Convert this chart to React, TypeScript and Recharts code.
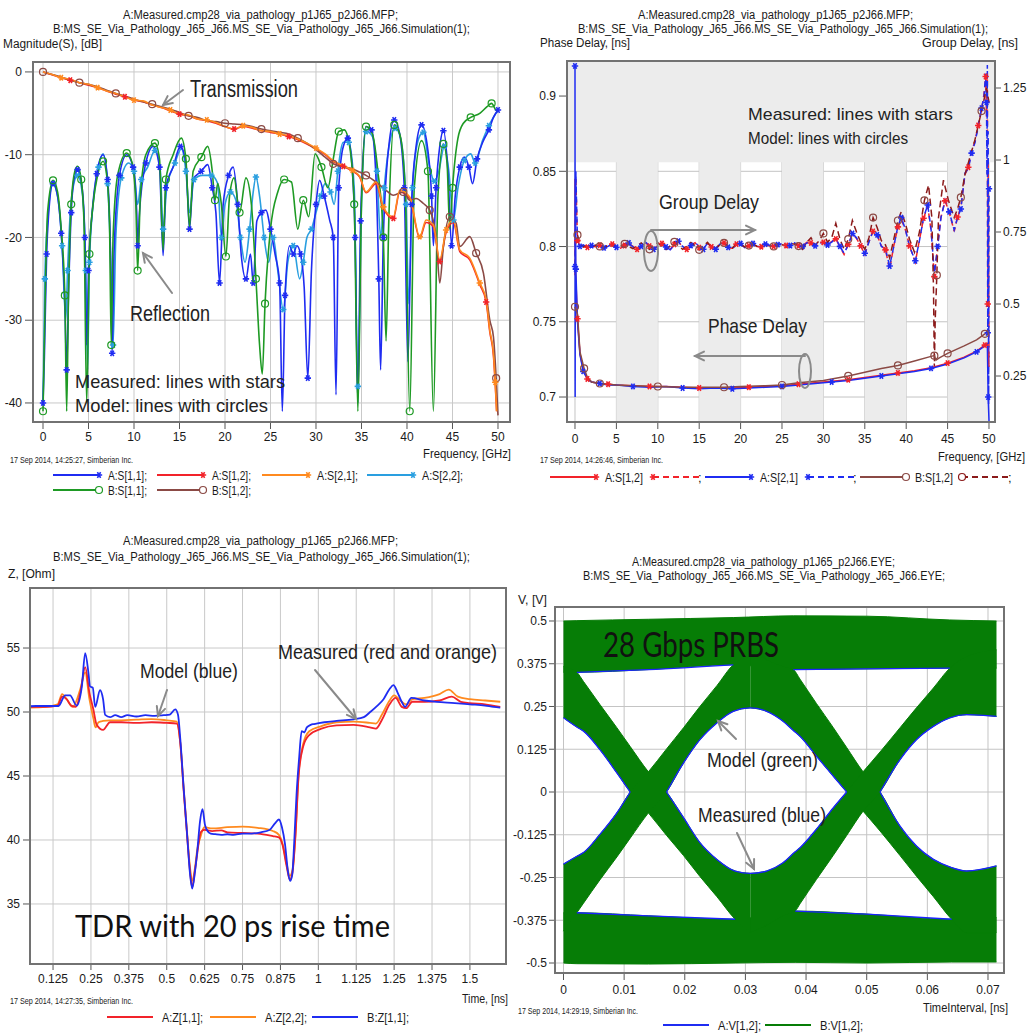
import React from 'react';
import { ComposedChart, Line, Area, XAxis, YAxis, CartesianGrid, ReferenceArea } from 'recharts';

const NARROW = "'Liberation Sans Narrow','Arial Narrow','Liberation Sans',Arial,sans-serif";
const BIG = "Lato,'Open Sans',sans-serif";

type P2 = [number, number];
type P3 = [number, number, number];

// ---------------- Panel 1: |S| in dB ----------------
const freqTicks = [0, 5, 10, 15, 20, 25, 30, 35, 40, 45, 50];
const magTicks = [0, -10, -20, -30, -40];

const s21A: P2[] = [[0,0],[1,-0.3],[2,-0.7],[3,-0.9],[4,-1.3],[5,-1.5],[6,-1.9],[7,-2.3],[8,-2.6],[9,-3.0],[10,-3.4],[11,-3.5],[12,-4.0],[13,-4.3],[14,-4.6],[15,-5.1],[16,-5.2],[17,-5.7],[18,-5.8],[19,-6.1],[20,-6.6],[21,-6.9],[22,-6.5],[23,-6.7],[24,-7.1],[25,-7.2],[26,-7.5],[27,-7.7],[28,-8.1],[29,-8.6],[30,-9.2],[31,-9.9],[32,-10.8],[33,-11.3],[34,-11.9],[34.8,-12.6],[35.5,-14.5],[36.6,-13.3],[37.4,-16.3],[38.5,-17.5],[39.2,-14.3],[40.3,-15.1],[41.4,-19.9],[42.1,-17.9],[42.9,-18.5],[43.6,-22.7],[44.3,-19.1],[45.1,-17.9],[45.8,-21.5],[46.9,-22.5],[48.0,-25.5],[48.7,-27.5],[49.1,-31.2],[49.5,-34.0],[49.7,-37.5],[49.85,-41]];
const s12A: P2[] = [[0,0],[1,-0.35],[2,-0.7],[3,-1.0],[4,-1.3],[5,-1.6],[6,-1.9],[7,-2.3],[8,-2.7],[9,-3.0],[10,-3.4],[11,-3.6],[12,-4.0],[13,-4.3],[14,-4.7],[15,-5.1],[16,-5.3],[17,-5.7],[18,-5.9],[19,-6.2],[20,-6.6],[21,-6.9],[22,-6.6],[23,-6.8],[24,-7.1],[25,-7.3],[26,-7.5],[27,-7.8],[28,-8.2],[29,-8.7],[30,-9.3],[31,-10.0],[32,-10.9],[33,-11.4],[34,-12.0],[34.8,-12.7],[35.5,-14.6],[36.6,-13.5],[37.4,-16.5],[38.5,-17.7],[39.2,-14.5],[40.3,-15.3],[41.4,-20.1],[42.1,-18.2],[42.9,-18.7],[43.6,-22.9],[44.3,-19.4],[45.1,-18.2],[45.8,-21.7],[46.9,-22.7],[48.0,-25.7],[48.7,-27.8],[49.1,-31.4],[49.5,-34.3],[49.7,-37.8],[49.85,-41]];
const s12B: P2[] = [[0,0],[1,-0.3],[2,-0.6],[3,-1.0],[4,-1.3],[5,-1.5],[6,-1.8],[7,-2.2],[8,-2.6],[9,-2.9],[10,-3.3],[11,-3.6],[12,-3.9],[13,-4.2],[14,-4.5],[15,-4.9],[16,-5.3],[17,-5.5],[18,-5.9],[19,-6.0],[20,-6.2],[21,-6.3],[22,-6.4],[23,-6.6],[24,-6.9],[25,-7.1],[26,-7.3],[27,-7.5],[28,-8.0],[29,-8.6],[30,-9.4],[31,-10.3],[31.9,-11.1],[33,-11.5],[33.7,-11.6],[34.8,-12.1],[35.5,-12.5],[36.6,-13.3],[37.7,-14.3],[38.5,-14.9],[39.6,-14.5],[40.3,-15.5],[41,-15.3],[41.8,-15.9],[42.5,-16.7],[43.2,-19.9],[43.6,-25.5],[44,-21.1],[44.7,-17.5],[45.4,-18.3],[45.8,-21.1],[46.9,-19.9],[47.6,-21.9],[48.4,-24.3],[49.1,-30],[49.5,-32],[49.8,-37],[50,-41.5]];
const s11B: P2[] = [[0,-41],[0.3,-24],[0.5,-17],[1.1,-13.1],[1.6,-14.5],[2.0,-19],[2.4,-27],[2.6,-41],[2.8,-27],[3.1,-16],[3.5,-12],[3.8,-11.4],[4.2,-13],[4.5,-18],[4.8,-40],[5.1,-22],[5.5,-16],[6.0,-12.5],[6.6,-10.8],[7.0,-12.5],[7.3,-18],[7.5,-33],[7.7,-20],[8.2,-12.5],[9.2,-9.8],[9.8,-11],[10.2,-16],[10.4,-24],[10.7,-15],[11.3,-10],[12.3,-8.6],[12.8,-10.5],[13.2,-21.5],[13.5,-13],[14.3,-10],[15.2,-8.0],[15.7,-10.5],[16.1,-18.7],[16.5,-12],[17.4,-10.3],[18.1,-9.0],[18.6,-12],[18.9,-15.5],[19.2,-13.5],[19.6,-16],[20.1,-22.3],[20.5,-15],[21.0,-12.8],[21.6,-17],[22.3,-12.8],[22.9,-16],[23.4,-25],[23.8,-33],[24.1,-36.5],[24.4,-28],[25.0,-19],[25.8,-14.5],[26.5,-13],[27.3,-13.3],[28.0,-19],[28.6,-15.5],[29.2,-17.5],[29.9,-9.9],[30.6,-11.5],[31.3,-14],[31.9,-10.5],[32.5,-7.2],[33.1,-7.0],[33.7,-9],[34.2,-16],[34.6,-41],[35.0,-16],[35.5,-6.6],[36.2,-7.5],[36.8,-12],[37.4,-20],[37.7,-32.5],[38.0,-18],[38.6,-6.4],[39.2,-7.5],[39.8,-14],[40.3,-41],[40.8,-14],[41.6,-8.3],[42.3,-12],[42.9,-41],[43.4,-15],[44.0,-8.7],[44.4,-11],[44.7,-19],[45.0,-14],[45.6,-8],[46.2,-6.2],[47.0,-5.5],[48.0,-5],[48.8,-4.2],[49.3,-3.8],[49.7,-4.5],[50,-4.8]];
const s11A: P2[] = [[0,-40],[0.15,-34.5],[0.4,-22],[0.6,-17.5],[1.1,-13.5],[1.6,-15],[2.0,-19.5],[2.4,-28],[2.6,-36],[2.8,-27],[3.1,-17],[3.4,-13],[3.8,-11.8],[4.3,-14],[4.6,-20],[4.8,-33],[5.0,-24],[5.4,-17],[5.9,-12.3],[6.6,-10.0],[7.1,-13],[7.4,-21],[7.6,-34],[7.8,-22],[8.4,-12.5],[9.2,-10.0],[9.9,-11.5],[10.3,-17],[10.4,-21],[10.6,-17],[11.3,-11],[12.1,-9.0],[12.8,-11.5],[13.2,-22.2],[13.5,-14],[14.3,-11.5],[15.1,-9.0],[15.7,-11],[16.1,-19],[16.5,-13],[17.4,-12],[18.1,-11.2],[18.6,-14],[19.0,-17],[19.4,-25.5],[19.8,-16],[20.4,-12.5],[20.9,-11.5],[21.4,-16],[21.8,-22.3],[22.3,-25],[22.8,-22],[23.1,-25.5],[23.5,-18],[24.0,-17],[24.5,-16.7],[25.0,-19],[25.5,-22],[26.0,-25.5],[26.3,-41],[26.6,-27],[27.1,-21],[27.5,-22],[27.9,-21],[28.3,-22],[28.7,-26],[29.1,-37],[29.5,-24],[30.0,-16],[30.4,-13.1],[30.9,-15],[31.5,-17.9],[31.9,-20],[32.2,-39],[32.5,-14],[33.0,-9.0],[33.5,-8.0],[34.0,-12],[34.3,-20],[34.6,-40],[34.9,-18],[35.5,-6.6],[36.1,-7],[36.6,-13],[36.9,-25],[37.1,-36],[37.4,-20],[38.0,-9],[38.6,-5.8],[39.2,-7.5],[39.7,-14],[40.1,-35],[40.5,-16],[41.0,-9],[41.6,-6.4],[42.3,-9.5],[42.7,-15],[42.9,-21],[43.2,-14],[43.6,-9],[44.0,-7.1],[44.5,-12],[44.9,-21],[45.3,-15],[45.8,-11.5],[46.3,-10.3],[46.8,-11.5],[47.2,-13.5],[47.7,-10.5],[48.4,-8.3],[49.0,-7],[49.5,-5.5],[50,-4.6]];
const s22A: P2[] = [[0,-40],[0.2,-25],[0.5,-18],[1.1,-13.5],[1.6,-15],[2.1,-21],[2.5,-30],[2.7,-24],[3.1,-15.5],[3.8,-12.5],[4.3,-14.5],[4.7,-24],[4.9,-36],[5.1,-23],[5.6,-15],[6.1,-11.5],[6.6,-9.9],[7.1,-13.5],[7.5,-25],[7.7,-33],[8.0,-20],[8.6,-12.8],[9.4,-11],[10,-12],[10.4,-16],[10.8,-13],[11.5,-11.5],[12.3,-9.5],[12.9,-12],[13.2,-19],[13.6,-14],[14.5,-11],[15.2,-9.3],[15.7,-12],[16.1,-17],[16.6,-13],[17.5,-12.5],[18.5,-12.5],[19.2,-13.5],[19.6,-20],[20.0,-16],[20.6,-14.5],[21.2,-15.5],[21.7,-20],[22.2,-23],[22.7,-19],[23.1,-14.5],[23.4,-12.7],[23.8,-15],[24.3,-20],[24.8,-23],[25.3,-20],[25.8,-24],[26.4,-28.7],[26.9,-23],[27.5,-21],[28.2,-25],[28.6,-23],[29.0,-20],[29.5,-19],[30.0,-17],[30.5,-15],[31.0,-13.5],[31.6,-14.5],[32.0,-16],[32.4,-12],[33.0,-8.5],[33.6,-8.5],[34.2,-14],[34.6,-38],[35.0,-16],[35.5,-7.2],[36.2,-7.8],[36.7,-12],[37.1,-20],[37.5,-14],[38.2,-8],[38.7,-6.8],[39.3,-8],[39.9,-16],[40.2,-28],[40.6,-14],[41.3,-8],[41.8,-7.3],[42.4,-11],[43.0,-13.2],[43.5,-12],[44.1,-9],[44.6,-12],[45.1,-17.9],[45.6,-14],[46.3,-10.7],[47.0,-9.9],[47.5,-11],[48.3,-8.3],[49,-6.5],[50,-4.6]];

// ---------------- Panel 2: delays ----------------
const pdLeftTicks = [0.9, 0.85, 0.8, 0.75, 0.7];
const gdRightTicks = [1.25, 1, 0.75, 0.5, 0.25];
const shadeCols: P2[] = [[5, 10], [15, 20], [25, 30], [35, 40], [45, 50]];

const pdA21: P2[] = [[0,0.92],[0.02,0.70],[0.05,0.85],[0.1,0.785],[0.3,0.75],[0.6,0.728],[1,0.717],[1.5,0.712],[2,0.710],[3,0.709],[4,0.708],[5,0.708],[7,0.707],[9,0.7065],[11,0.707],[13,0.706],[15,0.7055],[17,0.706],[19,0.7055],[21,0.706],[23,0.7065],[25,0.707],[27,0.708],[29,0.709],[31,0.710],[33,0.711],[35,0.7125],[37,0.714],[39,0.7155],[41,0.717],[43,0.719],[45,0.722],[47,0.726],[48.5,0.730],[49.5,0.734],[49.8,0.735],[49.9,0.70],[50,0.684]];
const pdA12: P2[] = [[0,0.845],[0.05,0.785],[0.3,0.752],[0.6,0.729],[1,0.718],[1.5,0.712],[2,0.710],[3,0.709],[4,0.7085],[5,0.708],[7,0.7075],[9,0.707],[11,0.707],[13,0.7065],[15,0.706],[17,0.706],[19,0.706],[21,0.7065],[23,0.707],[25,0.7075],[27,0.7085],[29,0.7095],[31,0.7105],[33,0.7115],[35,0.713],[37,0.7145],[39,0.716],[41,0.7175],[43,0.7195],[45,0.7225],[47,0.7265],[48.5,0.7305],[49.5,0.7345],[49.8,0.7355],[50,0.72]];
const pdB12: P2[] = [[0,0.76],[0.3,0.755],[0.6,0.73],[1.1,0.719],[1.5,0.713],[2,0.710],[3,0.709],[5,0.708],[7,0.7075],[10,0.707],[13,0.7065],[15,0.7065],[18,0.7065],[20,0.707],[23,0.7075],[25,0.708],[27,0.7095],[30,0.711],[33,0.714],[35,0.7165],[37,0.719],[39,0.721],[41,0.724],[43,0.727],[43.4,0.7275],[43.6,0.7245],[44,0.726],[45,0.729],[47,0.734],[48.5,0.738],[49.5,0.742],[50,0.7445]];
const gdA21: P2[] = [[0,0.63],[0.1,0.96],[0.3,0.715],[0.6,0.70],[1.0,0.705],[1.5,0.695],[2.0,0.703],[2.5,0.697],[3.0,0.706],[3.5,0.695],[4.0,0.700],[4.5,0.710],[5.0,0.697],[5.5,0.692],[6.0,0.705],[6.5,0.712],[7.0,0.698],[7.5,0.688],[8.0,0.700],[8.5,0.715],[9.0,0.703],[9.5,0.690],[10.0,0.700],[10.5,0.712],[11.0,0.698],[11.5,0.688],[12.0,0.705],[12.5,0.718],[13.0,0.700],[13.5,0.688],[14.0,0.703],[14.5,0.715],[15.0,0.698],[15.5,0.690],[16.0,0.712],[16.5,0.700],[17.0,0.690],[17.5,0.708],[18.0,0.714],[18.5,0.697],[19.0,0.692],[19.5,0.706],[20.0,0.710],[20.5,0.696],[21.0,0.700],[21.5,0.710],[22.0,0.702],[22.5,0.697],[23.0,0.708],[23.5,0.704],[24.0,0.698],[24.5,0.706],[25.0,0.710],[25.5,0.701],[26.0,0.703],[26.5,0.712],[27.0,0.705],[27.5,0.700],[28.0,0.712],[28.5,0.714],[29.0,0.702],[29.5,0.710],[30.0,0.716],[30.5,0.705],[31.0,0.715],[31.5,0.728],[32.0,0.700],[32.5,0.676],[33.0,0.705],[33.5,0.745],[34.0,0.730],[34.5,0.700],[35.0,0.676],[35.5,0.715],[36.0,0.755],[36.5,0.740],[37.0,0.700],[37.5,0.690],[38.0,0.632],[38.5,0.700],[39.0,0.770],[39.4,0.800],[39.9,0.760],[40.4,0.700],[41.1,0.650],[41.6,0.720],[42.1,0.800],[42.6,0.844],[43.0,0.760],[43.4,0.607],[43.8,0.700],[44.2,0.800],[44.7,0.861],[45.2,0.820],[45.8,0.757],[46.2,0.800],[46.6,0.830],[47.1,0.955],[47.5,0.970],[47.9,1.024],[48.3,1.060],[48.7,1.115],[49.1,1.180],[49.4,1.220],[49.6,1.300],[49.7,1.200],[49.75,0.950],[49.8,1.330],[49.85,0.400],[49.9,1.100],[49.95,0.150],[50,0.900]];
const gdA12: P2[] = [[0,0.60],[0.1,0.94],[0.3,0.72],[0.6,0.702],[1.0,0.703],[1.5,0.697],[2.0,0.701],[2.5,0.699],[3.0,0.704],[3.5,0.697],[4.0,0.702],[4.5,0.708],[5.0,0.699],[5.5,0.694],[6.0,0.703],[6.5,0.710],[7.0,0.700],[7.5,0.690],[8.0,0.702],[8.5,0.713],[9.0,0.701],[9.5,0.692],[10.0,0.702],[10.5,0.710],[11.0,0.696],[11.5,0.690],[12.0,0.707],[12.5,0.716],[13.0,0.698],[13.5,0.690],[14.0,0.705],[14.5,0.713],[15.0,0.696],[15.5,0.692],[16.0,0.710],[16.5,0.698],[17.0,0.692],[17.5,0.710],[18.0,0.712],[18.5,0.695],[19.0,0.694],[19.5,0.708],[20.0,0.708],[20.5,0.698],[21.0,0.702],[21.5,0.708],[22.0,0.700],[22.5,0.699],[23.0,0.706],[23.5,0.702],[24.0,0.700],[24.5,0.708],[25.0,0.708],[25.5,0.703],[26.0,0.705],[26.5,0.710],[27.0,0.703],[27.5,0.702],[28.0,0.714],[28.5,0.712],[29.0,0.704],[29.5,0.712],[30.0,0.714],[30.5,0.707],[31.0,0.717],[31.5,0.726],[32.0,0.698],[32.5,0.672],[33.0,0.707],[33.5,0.742],[34.0,0.728],[34.5,0.702],[35.0,0.672],[35.5,0.717],[36.0,0.752],[36.5,0.738],[37.0,0.702],[37.5,0.688],[38.0,0.620],[38.5,0.702],[39.0,0.768],[39.4,0.795],[39.9,0.758],[40.4,0.702],[41.1,0.645],[41.6,0.722],[42.1,0.798],[42.6,0.840],[43.0,0.755],[43.4,0.595],[43.8,0.702],[44.2,0.802],[44.7,0.858],[45.2,0.818],[45.8,0.752],[46.2,0.802],[46.6,0.835],[47.1,0.950],[47.5,0.975],[47.9,1.030],[48.3,1.065],[48.7,1.120],[49.1,1.175],[49.4,1.230],[49.6,1.290],[49.7,1.150],[49.8,1.300],[49.85,0.500],[49.9,1.000],[50,0.300]];
const gdB12: P2[] = [[0.3,0.74],[0.6,0.71],[1.0,0.698],[1.5,0.704],[2.0,0.699],[2.5,0.705],[3.0,0.700],[3.5,0.694],[4.0,0.706],[4.5,0.703],[5.0,0.694],[5.5,0.700],[6.0,0.709],[6.5,0.700],[7.0,0.692],[7.5,0.702],[8.0,0.712],[8.5,0.700],[9.0,0.690],[9.5,0.703],[10.0,0.713],[10.5,0.699],[11.0,0.689],[11.5,0.702],[12.0,0.716],[12.5,0.702],[13.0,0.690],[13.5,0.700],[14.0,0.714],[14.5,0.703],[15.0,0.688],[15.5,0.702],[16.0,0.714],[16.5,0.698],[17.0,0.692],[17.5,0.706],[18.0,0.712],[18.5,0.699],[19.0,0.694],[19.5,0.708],[20.0,0.706],[20.5,0.698],[21.0,0.703],[21.5,0.709],[22.0,0.700],[22.5,0.702],[23.0,0.710],[23.5,0.703],[24.0,0.700],[24.5,0.709],[25.0,0.706],[25.5,0.702],[26.0,0.710],[26.5,0.708],[27.0,0.701],[27.5,0.690],[28.0,0.715],[28.5,0.730],[29.0,0.705],[29.5,0.720],[30.0,0.745],[30.5,0.715],[31.0,0.730],[31.5,0.780],[32.0,0.725],[32.5,0.690],[33.0,0.725],[33.5,0.790],[34.0,0.750],[34.5,0.715],[35.0,0.690],[35.5,0.730],[36.0,0.800],[36.5,0.765],[37.0,0.720],[37.5,0.705],[38.0,0.660],[38.5,0.725],[39.0,0.790],[39.4,0.820],[39.9,0.780],[40.4,0.725],[41.0,0.680],[41.6,0.750],[42.2,0.860],[42.7,0.913],[43.1,0.800],[43.3,0.550],[43.4,0.278],[43.5,0.440],[43.7,0.600],[43.9,0.800],[44.5,0.930],[45.1,0.860],[45.8,0.800],[46.2,0.830],[46.6,0.870],[47.1,0.950],[47.5,0.990],[47.9,1.030],[48.3,1.070],[48.7,1.120],[49.1,1.170],[49.4,1.210],[49.7,1.250],[50,1.200]];

// ---------------- Panel 3: TDR impedance ----------------
const timeTicks = [0.125, 0.25, 0.375, 0.5, 0.625, 0.75, 0.875, 1, 1.125, 1.25, 1.375, 1.5];
const zTicks = [55, 50, 45, 40, 35];
const zB11: P2[] = [[0.049,50.45],[0.07,50.47],[0.143,50.47],[0.165,51.3],[0.181,51.3],[0.203,50.5],[0.22,52.0],[0.231,54.6],[0.242,53.0],[0.247,52.0],[0.256,51.9],[0.264,50.4],[0.280,51.7],[0.29,51.0],[0.297,49.77],[0.313,49.6],[0.33,49.75],[0.35,49.6],[0.37,49.75],[0.40,49.65],[0.43,49.75],[0.46,49.7],[0.49,49.75],[0.51,49.8],[0.528,50.2],[0.537,49.8],[0.545,47.8],[0.556,44.0],[0.567,40.5],[0.577,37.3],[0.584,36.2],[0.593,37.5],[0.601,39.2],[0.61,41.5],[0.618,42.4],[0.626,41.2],[0.632,40.8],[0.645,40.5],[0.66,40.45],[0.68,40.4],[0.70,40.45],[0.72,40.4],[0.75,40.5],[0.78,40.5],[0.81,40.6],[0.84,40.8],[0.857,41.3],[0.87,41.6],[0.88,41.0],[0.89,39.7],[0.90,37.5],[0.907,36.8],[0.914,37.3],[0.92,39.6],[0.928,43.5],[0.937,46.5],[0.945,48.5],[0.954,48.4],[0.962,48.8],[0.975,49.0],[0.986,49.06],[1.02,49.2],[1.06,49.3],[1.116,49.43],[1.15,49.6],[1.171,50.0],[1.195,50.5],[1.215,51.0],[1.235,51.8],[1.248,52.1],[1.26,51.6],[1.275,50.8],[1.286,50.4],[1.307,51.1],[1.35,50.9],[1.39,50.8],[1.45,50.7],[1.5,50.6],[1.55,50.5],[1.578,50.4],[1.6,50.35]];
const zA11: P2[] = [[0.049,50.4],[0.10,50.4],[0.14,50.5],[0.155,51.2],[0.17,51.0],[0.185,50.5],[0.2,50.4],[0.215,51.5],[0.231,53.5],[0.245,51.5],[0.258,50.2],[0.269,49.0],[0.29,48.6],[0.313,49.2],[0.35,49.2],[0.40,49.15],[0.45,49.2],[0.50,49.15],[0.533,49.1],[0.545,47.5],[0.556,43.8],[0.567,40.4],[0.577,37.5],[0.584,36.3],[0.593,37.6],[0.601,39.0],[0.612,40.6],[0.624,40.8],[0.65,40.7],[0.68,40.75],[0.70,40.6],[0.75,40.55],[0.80,40.5],[0.85,40.3],[0.87,40.2],[0.882,39.6],[0.895,38.0],[0.906,36.9],[0.915,37.5],[0.925,40.5],[0.935,45.0],[0.95,47.3],[0.97,48.2],[1.01,48.7],[1.06,48.95],[1.116,49.0],[1.17,48.8],[1.19,48.7],[1.21,49.4],[1.235,50.6],[1.255,51.1],[1.275,50.4],[1.29,50.3],[1.31,50.8],[1.35,50.8],[1.40,50.9],[1.44,51.2],[1.47,50.8],[1.5,50.7],[1.55,50.6],[1.6,50.4]];
const zA22: P2[] = [[0.049,50.35],[0.10,50.4],[0.14,50.6],[0.155,51.4],[0.17,51.0],[0.19,50.4],[0.215,51.8],[0.231,53.1],[0.245,51.0],[0.258,49.5],[0.265,48.8],[0.275,49.2],[0.29,49.3],[0.313,49.35],[0.35,49.35],[0.40,49.4],[0.45,49.45],[0.50,49.35],[0.533,49.25],[0.545,47.5],[0.556,44],[0.567,40.6],[0.577,37.8],[0.584,36.8],[0.593,37.8],[0.601,39.3],[0.612,40.3],[0.624,41.0],[0.65,40.9],[0.70,41.0],[0.75,41.05],[0.80,40.95],[0.85,40.7],[0.87,40.4],[0.882,39.7],[0.895,38.2],[0.906,37.2],[0.915,37.7],[0.925,40.6],[0.935,45.2],[0.95,47.5],[0.97,48.5],[1.01,48.9],[1.06,49.2],[1.116,49.25],[1.17,49.15],[1.19,49.1],[1.21,49.8],[1.235,50.9],[1.25,51.3],[1.275,50.8],[1.29,50.6],[1.31,51.0],[1.35,51.1],[1.40,51.4],[1.43,51.75],[1.46,51.2],[1.5,51.0],[1.55,50.9],[1.6,50.8]];

// ---------------- Panel 4: eye diagram (time, low, high) ----------------
const eyeTimeTicks = [0, 0.01, 0.02, 0.03, 0.04, 0.05, 0.06, 0.07];
const eyeVTicks = [0.5, 0.375, 0.25, 0.125, 0, -0.125, -0.25, -0.375, -0.5];
const eyeTopBand: P3[] = [[0,0.35,0.5],[0.0022,0.35,0.501],[0.014,0.358,0.505],[0.028,0.372,0.51],[0.0379,0.358,0.515],[0.05,0.36,0.514],[0.0637,0.362,0.503],[0.0714,0.362,0.5]];
const eyeBottomBand: P3[] = [[0,-0.5,-0.353],[0.0022,-0.502,-0.353],[0.014,-0.503,-0.362],[0.0283,-0.5,-0.372],[0.0382,-0.498,-0.348],[0.05,-0.5,-0.357],[0.064,-0.497,-0.372],[0.0714,-0.497,-0.367]];
const eyeFall1: P3[] = [[0,0.217,0.367],[0.0022,0.190,0.350],[0.0033,0.178,0.323],[0.0060,0.124,0.256],[0.0088,0.056,0.188],[0.0110,0.000,0.133],[0.0140,-0.061,0.059],[0.0170,-0.127,0.000],[0.0198,-0.186,-0.075],[0.0225,-0.247,-0.148],[0.0253,-0.306,-0.197],[0.0283,-0.372,-0.231],[0.0308,-0.411,-0.238]];
const eyeRise1: P3[] = [[0,-0.407,-0.211],[0.0022,-0.353,-0.188],[0.0033,-0.325,-0.177],[0.0060,-0.257,-0.124],[0.0088,-0.190,-0.061],[0.0110,-0.135,0.000],[0.0140,-0.061,0.059],[0.0170,0.000,0.126],[0.0198,0.085,0.188],[0.0225,0.153,0.250],[0.0253,0.202,0.311],[0.0280,0.236,0.372],[0.0308,0.246,0.396]];
const eyeFall2: P3[] = [[0.0308,0.246,0.416],[0.0335,0.236,0.387],[0.0362,0.207,0.367],[0.0379,0.180,0.358],[0.0390,0.163,0.330],[0.0417,0.105,0.259],[0.0445,0.046,0.188],[0.0467,0.000,0.130],[0.0494,-0.056,0.059],[0.0522,-0.114,0.000],[0.0555,-0.186,-0.100],[0.0582,-0.246,-0.158],[0.0610,-0.306,-0.197],[0.0640,-0.372,-0.221],[0.0665,-0.411,-0.231],[0.0714,-0.411,-0.216]];
const eyeRise2: P3[] = [[0.0308,-0.411,-0.238],[0.0335,-0.390,-0.231],[0.0362,-0.362,-0.207],[0.0382,-0.348,-0.175],[0.0390,-0.327,-0.163],[0.0417,-0.256,-0.109],[0.0445,-0.185,-0.046],[0.0467,-0.127,0.000],[0.0494,-0.056,0.059],[0.0522,0.000,0.117],[0.0555,0.095,0.188],[0.0582,0.153,0.246],[0.0610,0.192,0.304],[0.0637,0.217,0.362],[0.0665,0.226,0.396],[0.0714,0.221,0.416]];

// ---------------- helpers ----------------
const xy = (a: P2[]) => a.map(([x, y]) => ({ x, y }));
const rng = (a: P3[]) => a.map(([x, lo, hi]) => ({ x, v: [lo, hi] }));
const edge = (a: P3[], t0: number, t1: number, k: 1 | 2) =>
  a.filter((p) => p[0] >= t0 - 1e-9 && p[0] <= t1 + 1e-9).map((p) => ({ x: p[0], y: p[k] }));
const tickStyle = { fontSize: 12, fill: '#1a1a1a', fontFamily: NARROW };
const tickLine = { stroke: '#555', strokeWidth: 1 };

function marker(kind: 'star' | 'circle', color: string, every: number, offset = 0) {
  return (p: any) => {
    const { cx, cy, index } = p;
    const key = `m${index}`;
    if (cx == null || cy == null || (index + offset) % every !== 0) return <g key={key} />;
    if (kind === 'circle') return <circle key={key} cx={cx} cy={cy} r={3.5} fill="none" stroke={color} strokeWidth={1.2} />;
    const r = 3.2;
    return (
      <path key={key} d={`M${cx - r},${cy}H${cx + r}M${cx - r * 0.5},${cy - r * 0.87}L${cx + r * 0.5},${cy + r * 0.87}M${cx - r * 0.5},${cy + r * 0.87}L${cx + r * 0.5},${cy - r * 0.87}`} stroke={color} strokeWidth={1.6} fill="none" />
    );
  };
}

const C = {
  blue: '#1f2cf2', red: '#f2232a', orange: '#ff8a1f', lblue: '#2a9fe0', green: '#1e9a24', brown: '#8b4a45', eye: '#067d06', eyeEdge: '#1a22ff',
};

function Panel1() {
  return (
    <div style={{ position: 'absolute', left: 0, top: 50 }}>
      <ComposedChart width={520} height={410} margin={{ top: 12, right: 10, bottom: 0, left: 0 }}>
        <CartesianGrid stroke="#c9c9c9" />
        <XAxis type="number" dataKey="x" domain={[-1.1, 51.32]} ticks={freqTicks} interval={0} allowDataOverflow height={38} tickSize={7} tickMargin={3} axisLine={false} tick={tickStyle} tickLine={tickLine} />
        <YAxis type="number" domain={[-42.3, 1.2]} ticks={magTicks} interval={0} allowDataOverflow width={33} tickSize={8} tickMargin={3} axisLine={false} tick={tickStyle} tickLine={tickLine} />
        <Line data={xy(s22A)} dataKey="y" type="monotone" stroke={C.lblue} strokeWidth={1.6} dot={marker('star', C.lblue, 2, 1)} activeDot={false} isAnimationActive={false} />
        <Line data={xy(s11A)} dataKey="y" type="monotone" stroke={C.blue} strokeWidth={1.6} dot={marker('star', C.blue, 2)} activeDot={false} isAnimationActive={false} />
        <Line data={xy(s11B)} dataKey="y" type="monotone" stroke={C.green} strokeWidth={1.6} dot={marker('circle', C.green, 3)} activeDot={false} isAnimationActive={false} />
        <Line data={xy(s12A)} dataKey="y" type="monotone" stroke={C.red} strokeWidth={1.6} dot={marker('star', C.red, 6, 3)} activeDot={false} isAnimationActive={false} />
        <Line data={xy(s12B)} dataKey="y" type="monotone" stroke={C.brown} strokeWidth={1.6} dot={marker('circle', C.brown, 4)} activeDot={false} isAnimationActive={false} />
        <Line data={xy(s21A)} dataKey="y" type="monotone" stroke={C.orange} strokeWidth={1.6} dot={marker('star', C.orange, 4, 2)} activeDot={false} isAnimationActive={false} />
      </ComposedChart>
    </div>
  );
}

function Panel2() {
  return (
    <div style={{ position: 'absolute', left: 515, top: 49 }}>
      <ComposedChart width={512} height={411} margin={{ top: 12, right: 0, bottom: 0, left: 0 }}>
        {shadeCols.map(([a, b]) => (
          <ReferenceArea key={a} yAxisId="l" x1={a} x2={b} y1={0.6834} y2={0.9233} fill="#ececec" fillOpacity={1} stroke="none" />
        ))}
        <ReferenceArea yAxisId="l" x1={-0.966} x2={50.725} y1={0.856} y2={0.9233} fill="#ececec" fillOpacity={1} stroke="none" />
        <CartesianGrid yAxisId="l" stroke="#c4c4c4" />
        <XAxis type="number" dataKey="x" domain={[-0.966, 50.725]} ticks={freqTicks} interval={0} allowDataOverflow height={38} tickSize={7} tickMargin={5} axisLine={false} tick={tickStyle} tickLine={tickLine} />
        <YAxis yAxisId="l" type="number" domain={[0.6834, 0.9233]} ticks={pdLeftTicks} interval={0} allowDataOverflow width={52} tickSize={8} tickMargin={3} axisLine={false} tick={tickStyle} tickLine={tickLine} />
        <YAxis yAxisId="r" orientation="right" type="number" domain={[0.0903, 1.3438]} ticks={gdRightTicks} interval={0} allowDataOverflow width={32} tickSize={6} tickMargin={2} axisLine={false} tick={tickStyle} tickLine={tickLine} />
        <Line yAxisId="r" data={xy(gdA12)} dataKey="y" type="linear" stroke={C.red} strokeWidth={1.5} strokeDasharray="6 4" dot={marker('star', C.red, 3, 1)} activeDot={false} isAnimationActive={false} />
        <Line yAxisId="r" data={xy(gdA21)} dataKey="y" type="linear" stroke={C.blue} strokeWidth={1.5} strokeDasharray="6 4" dot={marker('star', C.blue, 3)} activeDot={false} isAnimationActive={false} />
        <Line yAxisId="r" data={xy(gdB12)} dataKey="y" type="linear" stroke="#8b1a1a" strokeWidth={1.5} strokeDasharray="7 4" dot={marker('circle', C.brown, 6)} activeDot={false} isAnimationActive={false} />
        <Line yAxisId="l" data={xy(pdA12)} dataKey="y" type="linear" stroke={C.red} strokeWidth={1.5} dot={marker('star', C.red, 3, 1)} activeDot={false} isAnimationActive={false} />
        <Line yAxisId="l" data={xy(pdA21)} dataKey="y" type="linear" stroke={C.blue} strokeWidth={1.5} dot={marker('star', C.blue, 3)} activeDot={false} isAnimationActive={false} />
        <Line yAxisId="l" data={xy(pdB12)} dataKey="y" type="linear" stroke={C.brown} strokeWidth={1.5} dot={marker('circle', C.brown, 3)} activeDot={false} isAnimationActive={false} />
      </ComposedChart>
    </div>
  );
}

function Panel3() {
  return (
    <div style={{ position: 'absolute', left: 0, top: 576 }}>
      <ComposedChart width={520} height={428} margin={{ top: 12, right: 14, bottom: 0, left: 0 }}>
        <CartesianGrid stroke="#c9c9c9" />
        <XAxis type="number" dataKey="x" domain={[0.049, 1.619]} ticks={timeTicks} interval={0} allowDataOverflow height={40} tickSize={6} tickMargin={4} axisLine={false} tick={tickStyle} tickLine={tickLine} />
        <YAxis type="number" domain={[30.31, 59.69]} ticks={zTicks} interval={0} allowDataOverflow width={30} tickSize={7} tickMargin={3} axisLine={false} tick={tickStyle} tickLine={tickLine} />
        <Line data={xy(zA22)} dataKey="y" type="monotone" stroke={C.orange} strokeWidth={1.8} dot={false} activeDot={false} isAnimationActive={false} />
        <Line data={xy(zA11)} dataKey="y" type="monotone" stroke={C.red} strokeWidth={1.8} dot={false} activeDot={false} isAnimationActive={false} />
        <Line data={xy(zB11)} dataKey="y" type="monotone" stroke={C.blue} strokeWidth={1.8} dot={false} activeDot={false} isAnimationActive={false} />
      </ComposedChart>
    </div>
  );
}

function Panel4() {
  const pieces = [eyeTopBand, eyeBottomBand, eyeFall1, eyeRise1, eyeFall2, eyeRise2];
  const edges = [
    edge(eyeFall1, 0, 0.011, 1), edge(eyeRise1, 0, 0.011, 2),
    [...edge(eyeRise1, 0.017, 0.0308, 1), ...edge(eyeFall2, 0.0309, 0.0467, 1)],
    [...edge(eyeFall1, 0.017, 0.0308, 2), ...edge(eyeRise2, 0.0309, 0.0467, 2)],
    edge(eyeRise2, 0.0522, 0.0714, 1), edge(eyeFall2, 0.0522, 0.0714, 2),
    edge(eyeTopBand, 0.0022, 0.028, 1), edge(eyeTopBand, 0.0379, 0.0637, 1),
    edge(eyeBottomBand, 0.0022, 0.0283, 2), edge(eyeBottomBand, 0.0382, 0.064, 2),
  ];
  return (
    <div style={{ position: 'absolute', left: 505, top: 595 }}>
      <ComposedChart width={522} height={418} margin={{ top: 12, right: 23, bottom: 0, left: 0 }}>
        <CartesianGrid stroke="#c4c4c4" />
        <XAxis type="number" dataKey="x" domain={[-0.0014, 0.07264]} ticks={eyeTimeTicks} interval={0} allowDataOverflow height={40} tickSize={7} tickMargin={5} axisLine={false} tick={tickStyle} tickLine={tickLine} />
        <YAxis type="number" domain={[-0.5292, 0.5409]} ticks={eyeVTicks} interval={0} allowDataOverflow width={50} tickSize={6} tickMargin={2} axisLine={false} tick={tickStyle} tickLine={tickLine} />
        {pieces.map((p, i) => (
          <Area key={i} data={rng(p)} dataKey="v" type="monotone" fill={C.eye} fillOpacity={1} stroke={C.eye} strokeWidth={1} dot={false} activeDot={false} isAnimationActive={false} />
        ))}
        {edges.map((d, i) => (
          <Line key={`e${i}`} data={d} dataKey="y" type="monotone" stroke={C.eyeEdge} strokeWidth={1.3} dot={false} activeDot={false} isAnimationActive={false} />
        ))}
      </ComposedChart>
    </div>
  );
}

function Arrow({ x1, y1, x2, y2 }: { x1: number; y1: number; x2: number; y2: number }) {
  const a = Math.atan2(y2 - y1, x2 - x1);
  const L = 10;
  const w1 = [x2 - L * Math.cos(a - 0.45), y2 - L * Math.sin(a - 0.45)];
  const w2 = [x2 - L * Math.cos(a + 0.45), y2 - L * Math.sin(a + 0.45)];
  return (
    <g stroke="#8a8a8a" strokeWidth={2} fill="none" strokeLinecap="round">
      <line x1={x1} y1={y1} x2={x2} y2={y2} />
      <polyline points={`${w1[0]},${w1[1]} ${x2},${y2} ${w2[0]},${w2[1]}`} />
    </g>
  );
}

const T = ({ w, ...props }: any) => (
  <text fontFamily={NARROW} fill="#1a1a1a" textLength={w} lengthAdjust={w ? 'spacingAndGlyphs' : undefined} {...props} />
);

function LegItem({ x, y, color, text, w, dash, mk, mkAt }: { x: number; y: number; color: string; text?: string; w?: number; dash?: string; mk?: 'star' | 'circle'; mkAt?: 'start' | 'end' }) {
  const mx = mkAt === 'start' ? x : x + 46;
  let m: any = null;
  if (mk === 'circle') m = <circle cx={mx} cy={y} r={3.5} fill="#fff" stroke={color} strokeWidth={1.2} />;
  if (mk === 'star') m = marker('star', color, 1)({ cx: mx, cy: y, index: 0 });
  return (
    <g>
      <line x1={x} y1={y} x2={x + 46} y2={y} stroke={color} strokeWidth={2} strokeDasharray={dash} />
      {m}
      {text ? <T x={x + 55} y={y + 4.5} fontSize={12.5} w={w}>{text}</T> : null}
    </g>
  );
}

const MFP1 = 'A:Measured.cmp28_via_pathology_p1J65_p2J66.MFP;';
const MFP2 = 'B:MS_SE_Via_Pathology_J65_J66.MS_SE_Via_Pathology_J65_J66.Simulation(1);';

function Overlay() {
  const frame = { fill: 'none', stroke: '#727272', strokeWidth: 2 };
  return (
    <svg width={1027} height={1034} style={{ position: 'absolute', left: 0, top: 0, pointerEvents: 'none' }}>
      {/* frames */}
      <rect x={33} y={62} width={477} height={360} {...frame} />
      <rect x={567} y={61} width={428} height={361} {...frame} />
      <rect x={30} y={588} width={476} height={376} {...frame} />
      <rect x={555} y={607} width={449} height={366} {...frame} />

      {/* panel 1 */}
      <T x={123} y={19} fontSize={12} w={275}>{MFP1}</T>
      <T x={53} y={33} fontSize={12} w={417}>{MFP2}</T>
      <T x={3} y={48} fontSize={12.5} w={99}>Magnitude(S), [dB]</T>
      <T x={423} y={458} fontSize={12.5} w={88}>Frequency, [GHz]</T>
      <T x={10} y={463} fontSize={8.5} w={123}>17 Sep 2014, 14:25:27, Simberian Inc.</T>
      <T x={190} y={97} fontSize={23} fill="#222" w={108}>Transmission</T>
      <Arrow x1={183} y1={90} x2={163} y2={105} />
      <T x={130} y={321} fontSize={22} fill="#222" w={80}>Reflection</T>
      <Arrow x1={172} y1={293} x2={143} y2={253} />
      <T x={75} y={388} fontSize={19} fill="#222" w={210}>Measured: lines with stars</T>
      <T x={75} y={412} fontSize={19} fill="#222" w={193}>Model: lines with circles</T>
      <LegItem x={53} y={475} color={C.blue} text="A:S[1,1];" w={39} mk="star" />
      <LegItem x={157} y={475} color={C.red} text="A:S[1,2];" w={39} mk="star" />
      <LegItem x={262} y={475} color={C.orange} text="A:S[2,1];" w={41} mk="star" />
      <LegItem x={367} y={475} color={C.lblue} text="A:S[2,2];" w={41} mk="star" />
      <LegItem x={53} y={490} color={C.green} text="B:S[1,1];" w={39} mk="circle" />
      <LegItem x={157} y={490} color={C.brown} text="B:S[1,2];" w={39} mk="circle" />

      {/* panel 2 */}
      <T x={638} y={19} fontSize={12} w={275}>{MFP1}</T>
      <T x={578} y={33} fontSize={12} w={410}>{MFP2}</T>
      <T x={540} y={47} fontSize={12.5} w={90}>Phase Delay, [ns]</T>
      <T x={922} y={47} fontSize={12.5} w={96}>Group Delay, [ns]</T>
      <T x={938} y={461} fontSize={12.5} w={87}>Frequency, [GHz]</T>
      <T x={540} y={463} fontSize={8.5} w={123}>17 Sep 2014, 14:26:46, Simberian Inc.</T>
      <T x={748} y={120} fontSize={17} fill="#222" w={205}>Measured: lines with stars</T>
      <T x={748} y={144} fontSize={17} fill="#222" w={160}>Model: lines with circles</T>
      <T x={659} y={209} fontSize={21} fill="#222" w={100}>Group Delay</T>
      <ellipse cx={651} cy={251} rx={7} ry={20} fill="none" stroke="#8a8a8a" strokeWidth={2} />
      <Arrow x1={651} y1={230} x2={755} y2={230} />
      <T x={708} y={333} fontSize={21} fill="#222" w={99}>Phase Delay</T>
      <ellipse cx={805} cy={371} rx={6} ry={17} fill="none" stroke="#8a8a8a" strokeWidth={2} />
      <Arrow x1={805} y1={356} x2={695} y2={356} />
      <LegItem x={550} y={477} color={C.red} text="A:S[1,2]" w={38} mk="star" />
      <LegItem x={653} y={477} color={C.red} dash="6 4" mk="star" mkAt="start" />
      <T x={698} y={482} fontSize={13}>;</T>
      <LegItem x={705} y={477} color={C.blue} text="A:S[2,1]" w={38} mk="star" />
      <LegItem x={808} y={477} color={C.blue} dash="6 4" mk="star" mkAt="start" />
      <T x={853} y={482} fontSize={13}>;</T>
      <LegItem x={860} y={477} color={C.brown} text="B:S[1,2]" w={38} mk="circle" />
      <LegItem x={962} y={477} color="#8b1a1a" dash="6 4" mk="circle" mkAt="start" />
      <T x={1008} y={482} fontSize={13}>;</T>

      {/* panel 3 */}
      <T x={123} y={545} fontSize={12} w={275}>{MFP1}</T>
      <T x={53} y={561} fontSize={12} w={417}>{MFP2}</T>
      <T x={8} y={578} fontSize={12.5} w={47}>Z, [Ohm]</T>
      <T x={462} y={1003} fontSize={12.5} w={46}>Time, [ns]</T>
      <T x={10} y={1004} fontSize={8.5} w={123}>17 Sep 2014, 14:27:35, Simberian Inc.</T>
      <T x={140} y={678} fontSize={21} fill="#222" w={98}>Model (blue)</T>
      <Arrow x1={167} y1={690} x2={158} y2={716} />
      <T x={278} y={659} fontSize={21} fill="#222" w={219}>Measured (red and orange)</T>
      <Arrow x1={315} y1={670} x2={356} y2={719} />
      <text x={75} y={937} fontSize={31} fontFamily={BIG} fill="#111" textLength={315} lengthAdjust="spacingAndGlyphs">TDR with 20 ps rise time</text>
      <LegItem x={107} y={1017} color={C.red} text="A:Z[1,1];" w={41} />
      <LegItem x={210} y={1017} color={C.orange} text="A:Z[2,2];" w={42} />
      <LegItem x={312} y={1017} color={C.blue} text="B:Z[1,1];" w={42} />

      {/* panel 4 */}
      <T x={632} y={566} fontSize={12} w={263}>A:Measured.cmp28_via_pathology_p1J65_p2J66.EYE;</T>
      <T x={583} y={580} fontSize={12} w={362}>B:MS_SE_Via_Pathology_J65_J66.MS_SE_Via_Pathology_J65_J66.EYE;</T>
      <T x={518} y={604} fontSize={12.5} w={29}>V, [V]</T>
      <T x={923} y={1012} fontSize={12.5} w={85}>TimeInterval, [ns]</T>
      <T x={518} y={1014} fontSize={8.5} w={120}>17 Sep 2014, 14:29:19, Simberian Inc.</T>
      <text x={603} y={657} fontSize={34} fontFamily={BIG} fill="#111" textLength={176} lengthAdjust="spacingAndGlyphs">28 Gbps PRBS</text>
      <T x={707} y={767} fontSize={20} fill="#222" w={111}>Model (green)</T>
      <Arrow x1={736} y1={739} x2={718} y2={721} />
      <T x={698} y={822} fontSize={20} fill="#222" w={128}>Measured (blue)</T>
      <Arrow x1={737} y1={833} x2={754} y2={869} />
      <LegItem x={663} y={1025} color={C.blue} text="A:V[1,2];" w={43} />
      <LegItem x={765} y={1025} color={C.eye} text="B:V[1,2];" w={43} />
    </svg>
  );
}

export default function App() {
  return (
    <div style={{ position: 'absolute', left: 0, top: 0, width: 1027, height: 1034, background: '#fff', overflow: 'hidden' }}>
      <Panel1 />
      <Panel2 />
      <Panel3 />
      <Panel4 />
      <Overlay />
    </div>
  );
}
